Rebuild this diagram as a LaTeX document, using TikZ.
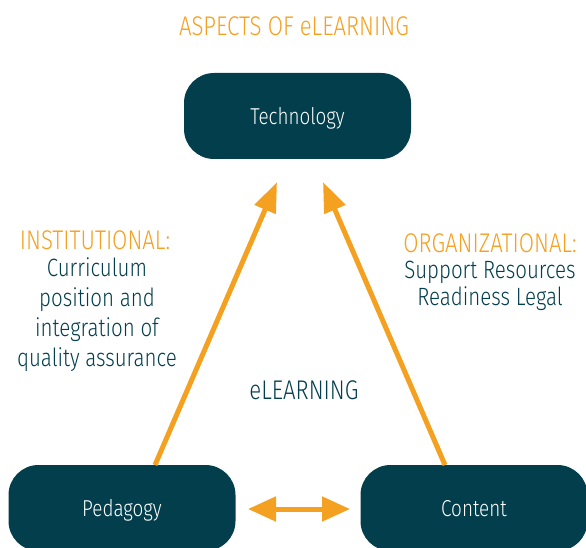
\documentclass[tikz,border=0pt]{standalone}
\usepackage{fontspec}
\setmainfont{Fira Sans Light}[FakeStretch=0.82]
\usetikzlibrary{arrows.meta}
\definecolor{teal}{HTML}{033E4C}
\definecolor{orng}{HTML}{F4A020}
\tikzset{
  box/.style={draw=none, fill=teal, rounded corners=30pt, minimum width=227pt, minimum height=86pt, text=white, font=\fontsize{23}{27}\selectfont, inner sep=0pt, text height=17pt, text depth=0pt},
  head/.style={text=orng, font=\fontsize{27}{31}\selectfont, inner sep=0pt},
  body/.style={text=teal, font=\fontsize{25}{30}\selectfont, align=center, inner sep=0pt},
  conn/.style={draw=orng, line width=5pt},
  tip/.style={-{Triangle[length=30pt,width=22pt]}},
  dtip/.style={{Triangle[length=28pt,width=24pt]}-{Triangle[length=28pt,width=24pt]}}
}
\begin{document}
\begin{tikzpicture}[x=1pt,y=-1pt]
\useasboundingbox (0,0) rectangle (586,548);
\node[head] (title) at (294,26) {ASPECTS OF eLEARNING};
\node[box] (tech) at (297.5,116) {Technology};
\node[box] (ped) at (122,508) {Pedagogy};
\node[box] (cont) at (474,508) {Content};
\node[head] (inst) at (95,240) {INSTITUTIONAL:};
\node[body, anchor=north] (insttxt) at (97,257) {Curriculum\\position and\\integration of\\quality assurance};
\node[head] (org) at (490,243) {ORGANIZATIONAL:};
\node[body, anchor=north, font=\fontsize{25}{27}\selectfont] (orgtxt) at (490,261) {Support Resources\\Readiness Legal};
\node[body, font=\fontsize{27}{31}\selectfont] (elearn) at (304,390) {eLEARNING};
\coordinate (lb) at (155,465);
\coordinate (lt) at (277,182);
\coordinate (rb) at (445,465);
\coordinate (rt) at (323,182);
\coordinate (dl) at (248,509);
\coordinate (dr) at (350,509);
\draw[conn, tip] (lb) -- (lt);
\draw[conn, tip] (rb) -- (rt);
\draw[conn, dtip] (dl) -- (dr);
\end{tikzpicture}
\end{document}
